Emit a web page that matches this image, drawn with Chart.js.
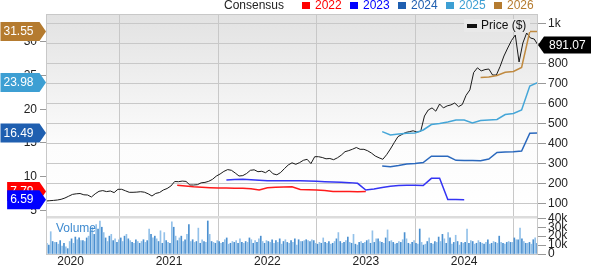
<!DOCTYPE html>
<html lang="en">
<head>
<meta charset="UTF-8">
<title>Price and Consensus</title>
<script src="https://cdn.jsdelivr.net/npm/chart.js"></script>
<style>
  body { margin: 0; background: #fff; font-family: Arial, "Liberation Sans", sans-serif; }
  .wrap { position: relative; width: 591px; height: 265px; overflow: hidden; }
  canvas { position: absolute; left: 0; top: 0; }
  .lg { position: absolute; top: -1px; font-size: 12px; line-height: 12px; white-space: nowrap; }
  .sq { position: absolute; top: 2px; width: 8px; height: 7px; }
</style>
</head>
<body>
<div class="wrap">
  <canvas id="chart" width="591" height="265"></canvas>
  <div class="lg" style="left:224px;color:#222">Consensus</div>
  <div class="sq" style="left:302px;background:#ff0000"></div><div class="lg" style="left:315px;color:#ff0000">2022</div>
  <div class="sq" style="left:350px;background:#0000ff"></div><div class="lg" style="left:363px;color:#0000ff">2023</div>
  <div class="sq" style="left:398px;background:#1f5fb0"></div><div class="lg" style="left:411px;color:#1f5fb0">2024</div>
  <div class="sq" style="left:446px;background:#3d9fd3"></div><div class="lg" style="left:459px;color:#3d9fd3">2025</div>
  <div class="sq" style="left:494px;background:#b57b2f"></div><div class="lg" style="left:507px;color:#b57b2f">2026</div>
</div>
<script>
// x axis is in fractional years
const yearTicks = [2020, 2021, 2022, 2023, 2024];
const xMin = 2019.75, xMax = 2024.75;

// price, every two weeks from Oct 2019
const priceStart = 2019.75;
const priceStep = 1 / 26;
const priceValues = [
  111.5, 113, 114.5, 116.5, 120, 126.5, 135.5, 144.5, 147.5, 149,
  142.5, 141.5, 131.5, 147.5, 160, 163.5, 158.5, 161.5, 153.5, 170,
  170, 162.5, 155, 155, 156, 158, 155.5, 147.5, 136.5, 149.5,
  154, 166.5, 174, 186.5, 209, 208, 211, 209.5, 191.5, 191.5,
  193, 202.5, 204.5, 210, 220, 236, 246.5, 259.5, 268.5, 265,
  251.5, 236.5, 238.5, 249, 265, 267.5, 258, 260, 253, 266.5,
  247.5, 242.5, 254, 273.5, 291.5, 302.5, 295, 303.5, 315, 320,
  298.5, 333, 333, 329, 322.5, 324, 318, 327.5, 340.5, 358,
  363.5, 370.5, 379, 370, 370, 362.5, 351, 336.5, 327.5, 320,
  343, 371.5, 403, 433.5, 443.5, 454, 458, 462.5, 456.5, 459.5,
  536.5, 566.5, 577, 560.5, 596.5, 577, 587, 592, 601.5, 583,
  594, 640, 667, 754, 777.5, 762, 768.5, 771.5, 741.5, 741.5,
  784.5, 836.5, 876.5, 914, 941.5, 806.5, 901.5, 951.5, 926.5, 921.5,
  891.07
];
const priceTicks = [100, 200, 300, 400, 500, 600, 700, 800, 900, 1000];

// consensus EPS estimates, monthly; start = months after Oct 2019
const monthStart = 2019.75;
const eps2022Start = 16;
const eps2022 = [8.72, 8.62, 8.50, 8.43, 8.37, 8.32, 8.32, 8.29, 8.28, 8.20, 8.03, 8.37,
  8.43, 8.47, 8.52, 8.10, 8.06, 8.03, 7.95, 7.80, 7.80, 7.79, 7.77, 7.79];
const eps2023Start = 22;
const eps2023 = [9.51, 9.58, 9.61, 9.54, 9.47, 9.41, 9.41, 9.41, 9.41, 9.39, 9.36, 9.32,
  9.26, 9.21, 9.17, 9.12, 9.02, 8.03, 8.18, 8.40, 8.58, 8.69, 8.72, 8.72, 8.69, 9.76,
  9.76, 6.62, 6.60, 6.59];
const eps2024Start = 41;
const eps2024 = [11.59, 11.48, 11.66, 11.88, 11.96, 12.11, 13.04, 13.04, 13.03, 12.43,
  12.40, 12.39, 12.37, 12.63, 13.59, 13.66, 13.69, 13.81, 16.44, 16.49];
const eps2025Start = 41;
const eps2025 = [16.68, 16.19, 16.34, 16.44, 16.48, 16.93, 17.74, 17.89, 18.12, 18.41,
  18.41, 17.97, 18.34, 18.41, 18.49, 19.23, 19.38, 19.90, 23.46, 23.98];
const eps2026Start = 53;
const eps2026 = [24.72, 24.79, 25.01, 25.49, 25.61, 26.2, 31.55, 31.55];
const epsTicks = [5, 10, 15, 20, 25, 30];

// weekly volume, thousands
const volStart = 2019.75;
const volStep = 1 / 52;
const volumes = [
  12, 10, 25, 14, 13, 13, 11, 15, 9, 12, 8, 6, 14,
  17, 12, 19, 16, 18, 15, 15, 14, 18, 20, 26, 30, 22,
  33, 28, 37, 30, 24, 18, 14, 20, 22, 15, 17, 13, 16,
  18, 14, 20, 22, 17, 15, 13, 12, 16, 14, 12, 14, 16,
  13, 15, 28, 22, 18, 20, 17, 14, 26, 12, 24, 15, 13,
  12, 36, 30, 20, 15, 18, 20, 14, 16, 22, 33, 14, 16,
  13, 14, 29, 12, 16, 14, 13, 37, 22, 14, 13, 12, 15,
  14, 12, 13, 16, 18, 11, 12, 14, 13, 15, 12, 17, 13,
  12, 14, 13, 18, 16, 12, 15, 13, 17, 20, 14, 12, 15,
  14, 13, 16, 12, 15, 13, 17, 11, 14, 16, 13, 12, 15,
  13, 17, 10, 16, 14, 14, 15, 16, 15, 14, 16, 15, 12,
  11, 13, 12, 18, 13, 12, 14, 11, 12, 14, 17, 24, 14,
  12, 13, 15, 19, 13, 12, 22, 11, 10, 13, 14, 12, 13,
  15, 16, 12, 26, 13, 17, 17, 14, 13, 12, 18, 27, 14,
  15, 13, 11, 12, 14, 13, 16, 24, 17, 12, 11, 13, 15,
  12, 11, 28, 13, 10, 11, 14, 18, 12, 11, 14, 13, 19,
  14, 22, 17, 12, 24, 18, 11, 13, 21, 14, 10, 13, 12,
  13, 28, 12, 15, 14, 11, 12, 15, 13, 12, 11, 13, 16,
  11, 12, 14, 13, 12, 20, 13, 12, 11, 13, 14, 13, 13,
  18, 16, 16, 29, 17, 14, 12, 12, 13, 11, 16, 18, 12
];
const volTicks = [0, 10, 20, 30, 40];

const series = [
  { label: '2022', start: eps2022Start, values: eps2022, color: '#ff1a1a', tag: '#ff0000' },
  { label: '2023', start: eps2023Start, values: eps2023, color: '#3434f4', tag: '#0000ff' },
  { label: '2024', start: eps2024Start, values: eps2024, color: '#2a68bd', tag: '#1f5fb0' },
  { label: '2025', start: eps2025Start, values: eps2025, color: '#45a6d8', tag: '#3d9fd3' },
  { label: '2026', start: eps2026Start, values: eps2026, color: '#c08a40', tag: '#b57b2f' }
];

const FONT = 'Arial, "Liberation Sans", sans-serif';
Chart.defaults.font.family = FONT;
Chart.defaults.font.size = 12;
Chart.defaults.color = '#222';

const datasets = [];
series.forEach(s => {
  datasets.push({
    type: 'line',
    label: s.label,
    data: s.values.map((v, i) => ({ x: monthStart + (s.start + i) / 12, y: v })),
    yAxisID: 'eps',
    borderColor: s.color,
    borderWidth: 1.5,
    pointRadius: 0,
    tension: 0
  });
});
datasets.push({
  type: 'line',
  label: 'Price ($)',
  data: priceValues.map((v, i) => ({ x: priceStart + i * priceStep, y: v })),
  yAxisID: 'price',
  borderColor: '#1a1a1a',
  borderWidth: 1,
  pointRadius: 0,
  tension: 0
});
datasets.push({
  type: 'bar',
  label: 'Volume',
  data: volumes.map((v, i) => ({ x: volStart + (i + 0.5) * volStep, y: v })),
  yAxisID: 'vol',
  backgroundColor: volumes.map((v, i) => i % 2 ? '#4b90d0' : '#93c1e9'),
  barThickness: 1,
  borderWidth: 0
});

function fixedTicks(list) {
  return scale => { scale.ticks = list.map(v => ({ value: v })); };
}

function leftTag(ctx, y, text, color) {
  ctx.font = '12px ' + FONT;
  const w = ctx.measureText(text).width;
  const right = 39.5, tip = 46, h = 19;
  const left = right - 6 - w - 3;
  ctx.fillStyle = color;
  ctx.beginPath();
  ctx.moveTo(left, y - h / 2);
  ctx.lineTo(right, y - h / 2);
  ctx.lineTo(tip, y);
  ctx.lineTo(right, y + h / 2);
  ctx.lineTo(left, y + h / 2);
  ctx.closePath();
  ctx.fill();
  ctx.fillStyle = '#fff';
  ctx.textAlign = 'right';
  ctx.textBaseline = 'middle';
  ctx.fillText(text, right - 6, y + 0.5);
}

const decorations = {
  id: 'decorations',
  beforeDraw(chart) {
    const ctx = chart.ctx, a = chart.chartArea, p = chart.scales.price;
    ctx.save();
    const g = ctx.createLinearGradient(0, p.top, 0, p.bottom);
    g.addColorStop(0, '#e2e2e2');
    g.addColorStop(0.65, '#fcfcfc');
    g.addColorStop(1, '#ffffff');
    ctx.fillStyle = g;
    ctx.fillRect(a.left, p.top, a.right - a.left, p.bottom - p.top);
    ctx.restore();
  },
  afterDraw(chart) {
    const ctx = chart.ctx, a = chart.chartArea;
    const p = chart.scales.price, e = chart.scales.eps;
    ctx.save();
    // divider between price and volume panes
    ctx.fillStyle = '#dcdcdc';
    ctx.fillRect(a.left, p.bottom - 1, a.right - a.left, 2.5);
    // frame
    ctx.strokeStyle = '#c8c8c8';
    ctx.lineWidth = 1;
    ctx.strokeRect(a.left + 0.5, a.top + 0.5, a.right - a.left - 1, a.bottom - a.top);

    // price legend
    ctx.fillStyle = '#e9e9e9';
    ctx.fillRect(464, 19, 66, 13);
    ctx.fillStyle = '#111';
    ctx.fillRect(467, 24, 10, 4);
    ctx.font = '12px ' + FONT;
    ctx.textAlign = 'left';
    ctx.textBaseline = 'middle';
    ctx.fillText('Price ($)', 481, 26);

    // volume caption
    ctx.fillStyle = '#3f8bd0';
    ctx.font = '12px ' + FONT;
    ctx.fillText('Volume', 56, 229);

    // consensus tags on the left
    series.forEach(s => {
      const last = s.values[s.values.length - 1];
      leftTag(ctx, e.getPixelForValue(last), last.toFixed(2), s.tag);
    });

    // price tag on the right
    const lastPrice = priceValues[priceValues.length - 1];
    const y = p.getPixelForValue(lastPrice);
    const h = 17;
    ctx.fillStyle = '#000';
    ctx.beginPath();
    ctx.moveTo(a.right, y);
    ctx.lineTo(a.right + 6, y - h / 2);
    ctx.lineTo(591, y - h / 2);
    ctx.lineTo(591, y + h / 2);
    ctx.lineTo(a.right + 6, y + h / 2);
    ctx.closePath();
    ctx.fill();
    ctx.fillStyle = '#fff';
    ctx.textAlign = 'left';
    ctx.fillText(lastPrice.toFixed(2), 549, y + 0.5);
    ctx.restore();
  }
};

new Chart(document.getElementById('chart'), {
  type: 'line',
  data: { datasets: datasets },
  options: {
    responsive: false,
    animation: false,
    events: [],
    layout: { padding: { top: 14, left: 0, right: 0, bottom: 0 } },
    plugins: { legend: { display: false }, tooltip: { enabled: false } },
    scales: {
      x: {
        type: 'linear',
        position: 'bottom',
        min: xMin,
        max: xMax,
        offset: false,
        afterBuildTicks: fixedTicks(yearTicks),
        afterFit: s => { s.height = 11; },
        ticks: { padding: 0, callback: v => String(v), maxRotation: 0, autoSkip: false },
        grid: { color: '#c8c8c8', drawTicks: false },
        border: { display: false }
      },
      // left stack is laid out bottom-first, so the spacer comes first
      epsPad: {
        type: 'linear',
        position: 'left',
        stack: 'left',
        stackWeight: 37,
        afterFit: s => { s.width = 46; },
        ticks: { display: false },
        grid: { display: false },
        border: { display: false }
      },
      eps: {
        type: 'linear',
        position: 'left',
        stack: 'left',
        stackWeight: 203,
        min: 4.02,
        max: 34.14,
        afterBuildTicks: fixedTicks(epsTicks),
        afterFit: s => { s.width = 46; },
        ticks: { padding: 3, autoSkip: false },
        grid: { drawOnChartArea: false, tickLength: 6, tickColor: '#999' },
        border: { display: false }
      },
      price: {
        type: 'linear',
        position: 'right',
        stack: 'right',
        stackWeight: 203,
        min: 31.5,
        max: 1046.5,
        afterBuildTicks: fixedTicks(priceTicks),
        afterFit: s => { s.width = 53; },
        ticks: { padding: 2, autoSkip: false, callback: v => v === 1000 ? '1k' : String(v) },
        grid: { color: '#c8c8c8', tickLength: 8, tickColor: '#999' },
        border: { display: false }
      },
      vol: {
        type: 'linear',
        position: 'right',
        stack: 'right',
        stackWeight: 37,
        min: 0,
        max: 41.46,
        afterBuildTicks: fixedTicks(volTicks),
        afterFit: s => { s.width = 53; },
        ticks: { padding: 2, autoSkip: false, callback: v => v === 0 ? '0' : v + 'k' },
        grid: { drawOnChartArea: false, tickLength: 8, tickColor: '#999' },
        border: { display: false }
      }
    }
  },
  plugins: [decorations]
});
</script>
</body>
</html>
